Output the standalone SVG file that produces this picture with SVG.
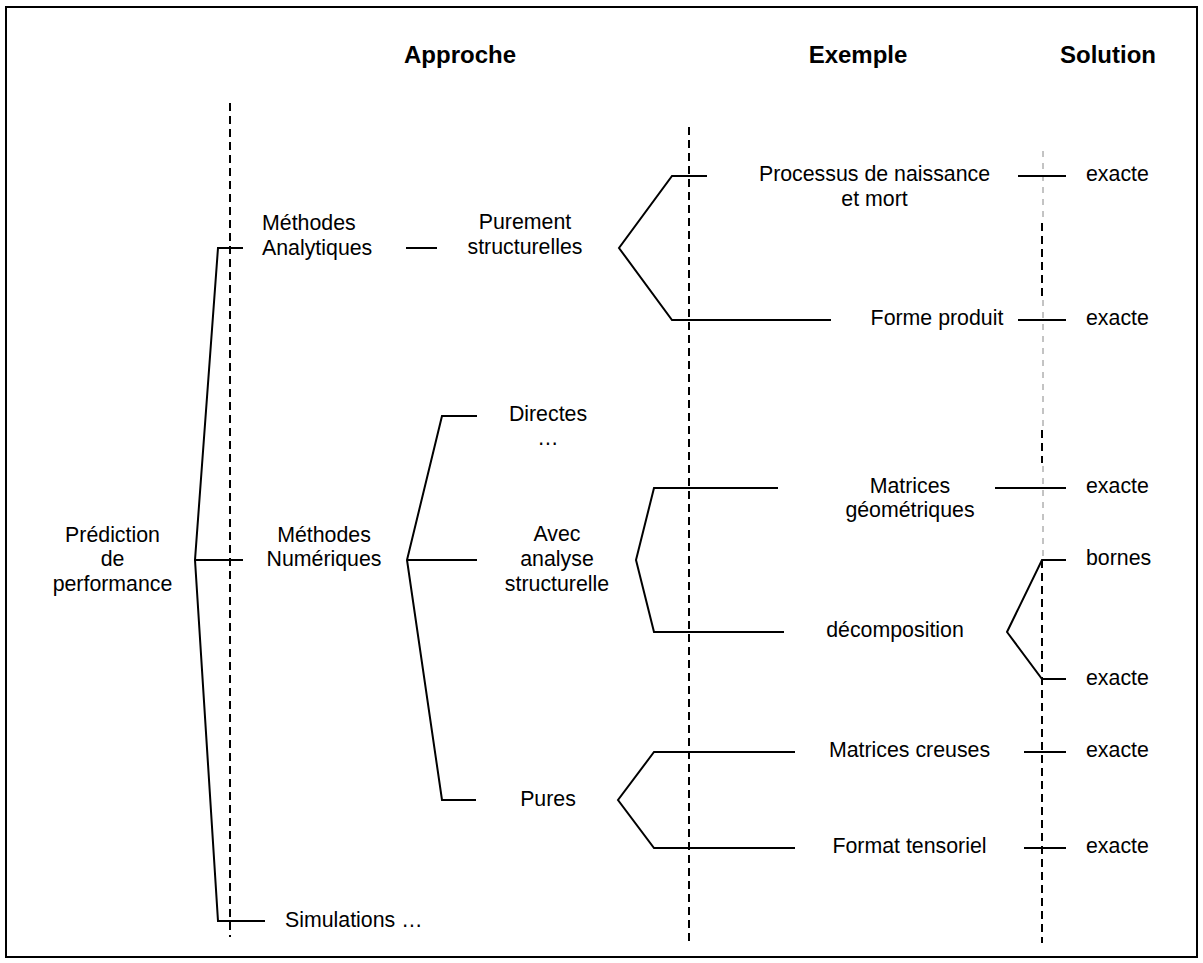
<svg xmlns="http://www.w3.org/2000/svg" width="1203" height="963" viewBox="0 0 1203 963">
<style>
.t{font-family:"Liberation Sans",Arial,sans-serif;font-size:21.33px;fill:#000}
.m{text-anchor:middle}
.h{font-family:"Liberation Sans",Arial,sans-serif;font-size:24px;font-weight:bold;text-anchor:middle;fill:#000}
.c{fill:none;stroke:#000;stroke-width:2}
.d{fill:none;stroke:#000;stroke-width:2;stroke-dasharray:8 5}
.dl{fill:none;stroke:#888;stroke-width:1;stroke-dasharray:6 6}
</style>
<rect x="0" y="0" width="1203" height="963" fill="#fff"/>
<rect x="6" y="7" width="1191" height="950" fill="none" stroke="#000" stroke-width="2"/>
<g id="headers">
<text class="h" x="460" y="63">Approche</text>
<text class="h" x="858" y="63">Exemple</text>
<text class="h" x="1108" y="63">Solution</text>
</g>
<g id="guides">
<line class="d" x1="230" y1="103" x2="230" y2="937"/>
<line class="d" x1="689" y1="127" x2="689" y2="943"/>
<line class="dl" x1="1043" y1="151" x2="1043" y2="218"/>
<line class="d" x1="1042" y1="223" x2="1042" y2="297"/>
<line class="dl" x1="1043" y1="300" x2="1043" y2="430"/>
<line class="d" x1="1042" y1="430" x2="1042" y2="463"/>
<line class="dl" x1="1043" y1="466" x2="1043" y2="558"/>
<line class="d" x1="1042" y1="560" x2="1042" y2="943"/>
</g>
<g id="connectors">
<polyline class="c" points="243,248 218,248 195,560 218,921 265,921"/>
<line class="c" x1="195" y1="560" x2="243" y2="560"/>
<line class="c" x1="406" y1="248" x2="437" y2="248"/>
<polyline class="c" points="707,176 672,176 619,248 672,320 831,320"/>
<line class="c" x1="1018" y1="176" x2="1066" y2="176"/>
<line class="c" x1="1018" y1="320" x2="1066" y2="320"/>
<polyline class="c" points="477,416 442,416 407,560 442,800 476,800"/>
<line class="c" x1="407" y1="560" x2="477" y2="560"/>
<polyline class="c" points="778,488 654,488 636,560 654,632 784,632"/>
<line class="c" x1="995" y1="488" x2="1066" y2="488"/>
<polyline class="c" points="1066,560 1042,560 1007,632 1042,679 1066,679"/>
<polyline class="c" points="795,752 654,752 618,800 654,848 795,848"/>
<line class="c" x1="1024" y1="752" x2="1066" y2="752"/>
<line class="c" x1="1024" y1="848" x2="1066" y2="848"/>
</g>
<g id="n-prediction"><text class="t m" x="112.5" y="542">Prédiction<tspan x="112.5" y="566">de</tspan><tspan x="112.5" y="591">performance</tspan></text></g>
<g id="n-analytiques"><text class="t" x="262" y="230">Méthodes<tspan x="262" y="255">Analytiques</tspan></text></g>
<g id="n-purement"><text class="t m" x="525" y="229">Purement<tspan x="525" y="254">structurelles</tspan></text></g>
<g id="n-processus"><text class="t m" x="874.5" y="181">Processus de naissance<tspan x="874.5" y="206">et mort</tspan></text></g>
<g id="n-exacte1"><text class="t" x="1086" y="181">exacte</text></g>
<g id="n-forme"><text class="t m" x="937" y="325">Forme produit</text></g>
<g id="n-exacte2"><text class="t" x="1086" y="325">exacte</text></g>
<g id="n-numeriques"><text class="t m" x="324" y="542">Méthodes<tspan x="324" y="566">Numériques</tspan></text></g>
<g id="n-directes"><text class="t m" x="548" y="421">Directes<tspan x="548" y="445">…</tspan></text></g>
<g id="n-avec"><text class="t m" x="557" y="541">Avec<tspan x="557" y="566">analyse</tspan><tspan x="557" y="591">structurelle</tspan></text></g>
<g id="n-geom"><text class="t m" x="910" y="493">Matrices<tspan x="910" y="517">géométriques</tspan></text></g>
<g id="n-exacte3"><text class="t" x="1086" y="493">exacte</text></g>
<g id="n-bornes"><text class="t" x="1086" y="565">bornes</text></g>
<g id="n-decomp"><text class="t m" x="895" y="637">décomposition</text></g>
<g id="n-exacte4"><text class="t" x="1086" y="685">exacte</text></g>
<g id="n-pures"><text class="t m" x="548" y="806">Pures</text></g>
<g id="n-creuses"><text class="t m" x="909.5" y="757">Matrices creuses</text></g>
<g id="n-exacte5"><text class="t" x="1086" y="757">exacte</text></g>
<g id="n-tensoriel"><text class="t m" x="909.5" y="853">Format tensoriel</text></g>
<g id="n-exacte6"><text class="t" x="1086" y="853">exacte</text></g>
<g id="n-simulations"><text class="t" x="285" y="927">Simulations …</text></g>
</svg>
